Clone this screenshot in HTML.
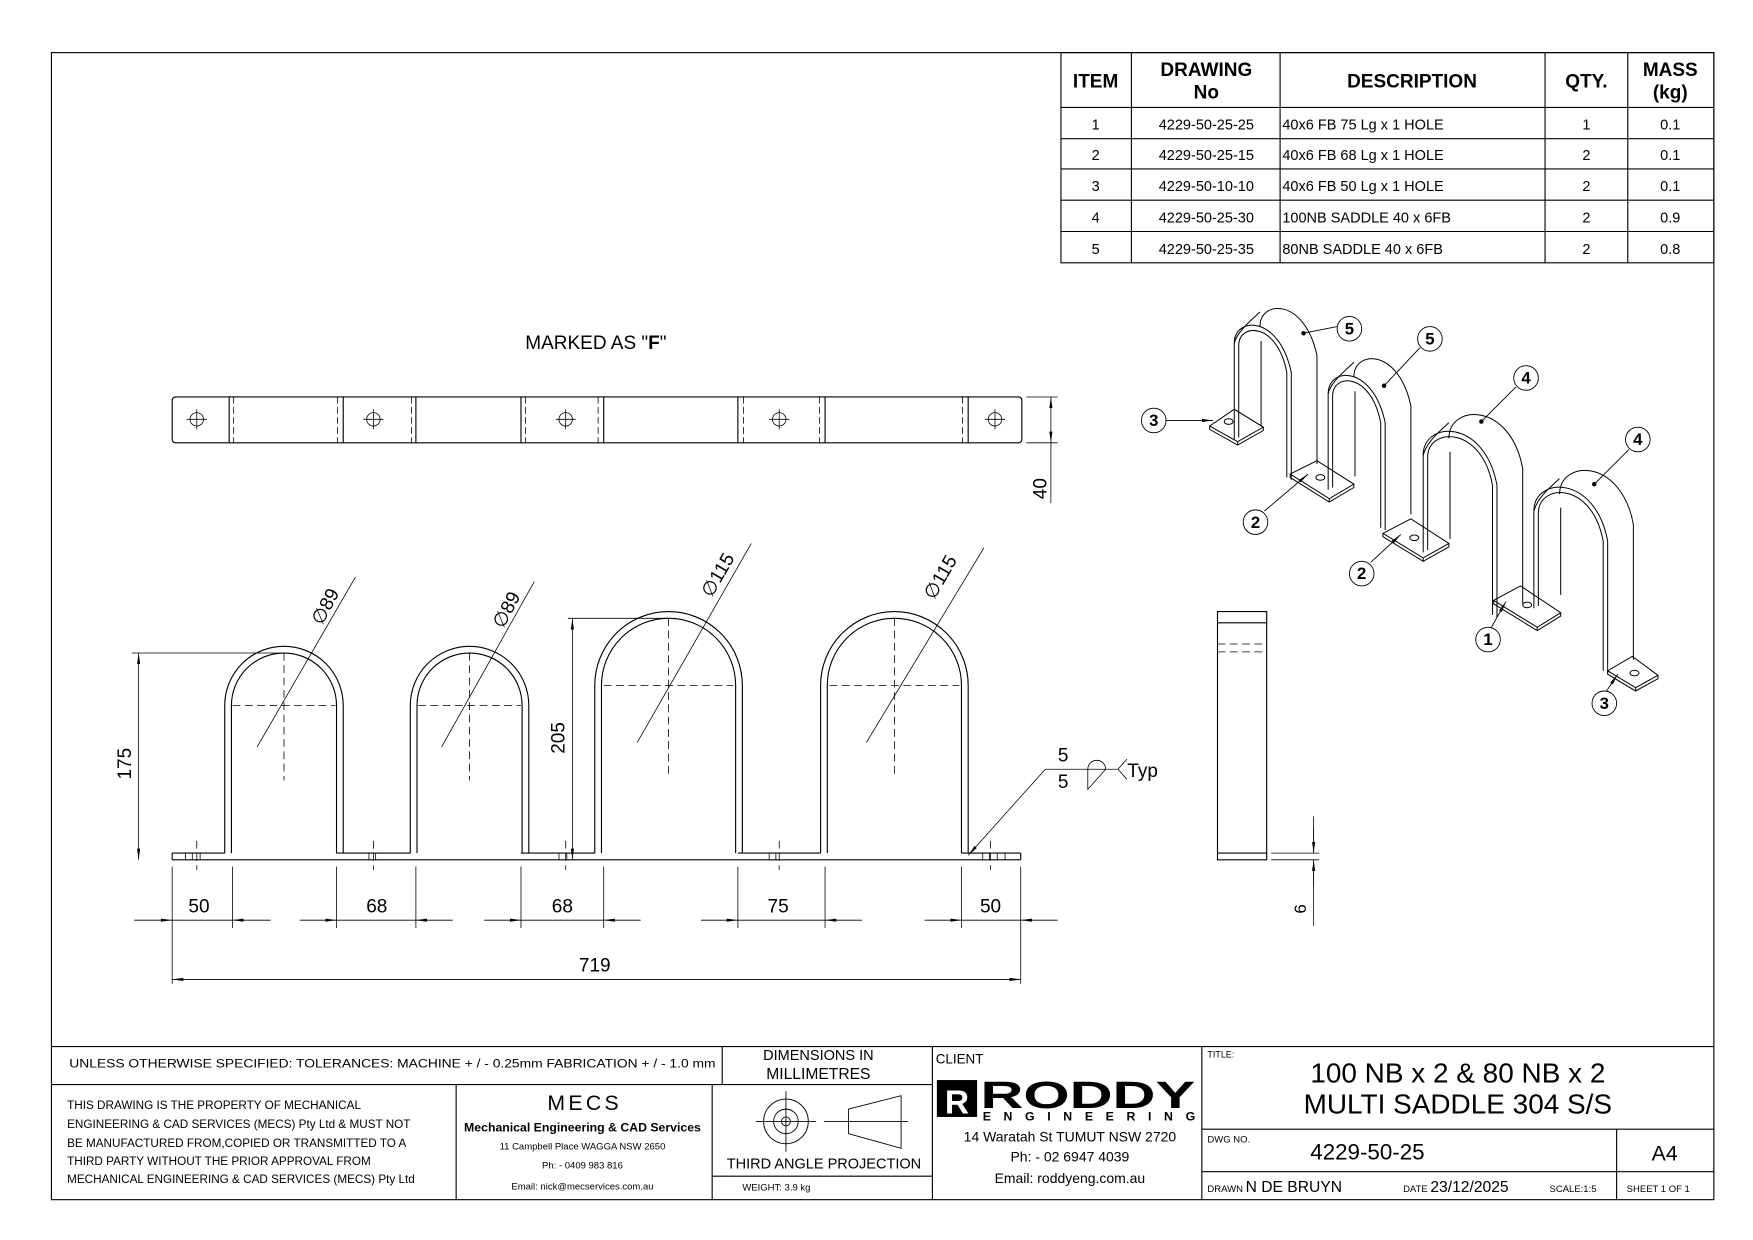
<!DOCTYPE html>
<html><head><meta charset="utf-8"><style>
html,body{margin:0;padding:0;background:#fff}
svg{display:block}
text{font-family:"Liberation Sans",sans-serif;fill:#000}
</style></head><body>
<svg width="1753" height="1240" viewBox="0 0 1568 1109" xmlns="http://www.w3.org/2000/svg">
<defs>
<marker id="ar" viewBox="0 0 10 4" refX="10" refY="2" markerWidth="10" markerHeight="4" markerUnits="userSpaceOnUse" orient="auto-start-reverse"><path d="M0,0.6 L10,2 L0,3.4z" fill="#000"/></marker>
<g id="ss" fill="none" stroke="#000" stroke-width="0.9">
<path d="M0,0 L0,-86 C0,-110 40,-112 51,-60 L51,36"/>
<path d="M4,-2 L4,-84 C4,-104 38,-106 47,-60 L47,34"/>
<path d="M23,-101 C23,-125 63,-127 74,-75 L74,22"/>
<path d="M0,-86 C2,-95 12,-104 23,-114"/>
<path d="M24,-12 L24,-88"/>
</g>
<g id="sl" fill="none" stroke="#000" stroke-width="0.9">
<path d="M0,0 L0,-87 C0,-118 55,-120 66,-60 L66,58"/>
<path d="M4,-2 L4,-85 C4,-112 52,-114 62,-60 L62,56"/>
<path d="M23,-102 C23,-133 78,-135 89,-75 L89,46"/>
<path d="M0,-87 C3,-98 12,-106 23,-116"/>
<path d="M24,-12 L24,-90"/>
</g>
</defs>
<g fill="none" stroke="#000" stroke-width="1">
<rect x="46" y="47" width="1487" height="1026"/>
<rect x="949" y="47" width="584" height="188"/>
<path d="M1012,47V235M1145,47V235M1382,47V235M1456,47V235M949,96H1533M949,124H1533M949,151H1533M949,179H1533M949,207H1533"/>
<path d="M46,936H1533M46,970H834M408,970V1073M637,970V1073M646,936V970M834,936V1073M1075,936V1073M637,1052H834M1075,1010H1533M1075,1048H1533M1446,1010V1073"/>
</g>
<g font-size="13" text-anchor="middle">
<text x="980" y="78" font-weight="bold" font-size="17">ITEM</text>
<text x="1079" y="68" font-weight="bold" font-size="17">DRAWING</text>
<text x="1079" y="88" font-weight="bold" font-size="17">No</text>
<text x="1263" y="78" font-weight="bold" font-size="17">DESCRIPTION</text>
<text x="1419" y="78" font-weight="bold" font-size="17">QTY.</text>
<text x="1494" y="68" font-weight="bold" font-size="17">MASS</text>
<text x="1494" y="88" font-weight="bold" font-size="17">(kg)</text>
<text x="980" y="116">1</text><text x="1079" y="116">4229-50-25-25</text><text x="1419" y="116">1</text><text x="1494" y="116">0.1</text>
<text x="980" y="143">2</text><text x="1079" y="143">4229-50-25-15</text><text x="1419" y="143">2</text><text x="1494" y="143">0.1</text>
<text x="980" y="171">3</text><text x="1079" y="171">4229-50-10-10</text><text x="1419" y="171">2</text><text x="1494" y="171">0.1</text>
<text x="980" y="199">4</text><text x="1079" y="199">4229-50-25-30</text><text x="1419" y="199">2</text><text x="1494" y="199">0.9</text>
<text x="980" y="227">5</text><text x="1079" y="227">4229-50-25-35</text><text x="1419" y="227">2</text><text x="1494" y="227">0.8</text>
</g>
<g font-size="13">
<text x="1147" y="116">40x6 FB 75 Lg x 1 HOLE</text>
<text x="1147" y="143">40x6 FB 68 Lg x 1 HOLE</text>
<text x="1147" y="171">40x6 FB 50 Lg x 1 HOLE</text>
<text x="1147" y="199">100NB SADDLE 40 x 6FB</text>
<text x="1147" y="227">80NB SADDLE 40 x 6FB</text>
</g>
<text x="533" y="312" font-size="17" text-anchor="middle">MARKED AS "<tspan font-weight="bold">F</tspan>"</text>
<g fill="none" stroke="#000" stroke-width="1">
<rect x="154" y="355" width="760" height="41" rx="3"/>
<path d="M205,355V396M307,355V396M372,355V396M466,355V396M540,355V396M660,355V396M738,355V396M866,355V396"/>
<path stroke-dasharray="6,3" stroke-width="0.7" d="M209,355V396M302,355V396M368,355V396M470,355V396M535,355V396M665,355V396M733,355V396M861,355V396"/>
<g stroke-width="0.7">
<circle cx="176" cy="375" r="6"/><path d="M176,366V384M167,375H185"/>
<circle cx="334" cy="375" r="6"/><path d="M334,366V384M325,375H343"/>
<circle cx="506" cy="375" r="6"/><path d="M506,366V384M497,375H515"/>
<circle cx="697" cy="375" r="6"/><path d="M697,366V384M688,375H706"/>
<circle cx="890" cy="375" r="6"/><path d="M890,366V384M881,375H899"/>
</g>
<path stroke-width="0.7" d="M918,355H946M918,396H946"/>
<path stroke-width="0.7" d="M940,355V396" marker-start="url(#ar)" marker-end="url(#ar)"/>
<path stroke-width="0.7" d="M940,396V450"/>
</g>
<text x="0" y="0" font-size="17" transform="translate(936,437) rotate(-90)" text-anchor="middle">40</text>
<g fill="none" stroke="#000" stroke-width="1">
<path d="M154,769H913M154,763H201M301,763H367M466,763H532M660,763H734M860,763H913M154,763V769M913,763V769"/>
<path d="M201,763V631A53,53 0 0 1 307,631V763M207,763V631A47,47 0 0 1 301,631V763"/>
<path d="M367,763V631A53,53 0 0 1 473,631V763M373,763V631A47,47 0 0 1 467,631V763"/>
<path d="M532,763V613A66,66 0 0 1 664,613V763M538,763V613A60,60 0 0 1 658,613V763"/>
<path d="M734,763V613A66,66 0 0 1 866,613V763M740,763V613A60,60 0 0 1 860,613V763"/>
<path stroke-width="0.7" d="M166,763V769M172,763V769M179,763V769M330,763V769M336,763V769M500,763V769M507,763V769M688,763V769M694,763V769M879,763V769M885,763V769M892,763V769M899,763V769"/>
<g stroke-width="0.7" stroke-dasharray="7,4">
<path d="M254,584V698M208,631H300M420,584V698M374,631H466M598,553V695M540,613H656M800,553V695M742,613H858"/>
<path d="M176,752V778M334,752V778M506,752V778M697,752V778M886,752V778"/>
</g>
<g stroke-width="0.7">
<path d="M230,668L318,516M395,668L478,520M570,664L672,486M775,664L880,490"/>
<path d="M118,584H254M508,553H598"/>
<path d="M124,584V769" marker-start="url(#ar)" marker-end="url(#ar)"/>
<path d="M512,553V769" marker-start="url(#ar)" marker-end="url(#ar)"/>
<path d="M154,775V880M208,775V830M301,775V830M372,775V830M466,775V830M540,775V830M660,775V830M738,775V830M860,775V830M913,775V880"/>
<path d="M120,823H154" marker-end="url(#ar)"/><path d="M242,823H208" marker-end="url(#ar)"/><path d="M154,823H208"/>
<path d="M268,823H301" marker-end="url(#ar)"/><path d="M405,823H372" marker-end="url(#ar)"/><path d="M301,823H372"/>
<path d="M433,823H466" marker-end="url(#ar)"/><path d="M573,823H540" marker-end="url(#ar)"/><path d="M466,823H540"/>
<path d="M627,823H660" marker-end="url(#ar)"/><path d="M771,823H738" marker-end="url(#ar)"/><path d="M660,823H738"/>
<path d="M827,823H860" marker-end="url(#ar)"/><path d="M946,823H913" marker-end="url(#ar)"/><path d="M860,823H913"/>
<path d="M154,876H913" marker-start="url(#ar)" marker-end="url(#ar)"/>
<path d="M935,688L866,765" marker-end="url(#ar)"/>
<path d="M935,688H1000M973,688A8,8 0 0 1 989,688M973,688V706L989,688M1000,688L1008,679M1000,688L1008,697"/>
</g>
</g>
<g font-size="17" text-anchor="middle">
<text transform="translate(117,683) rotate(-90)">175</text>
<text transform="translate(505,660) rotate(-90)">205</text>
<text transform="translate(296,545) rotate(-62)">∅89</text>
<text transform="translate(458,548) rotate(-62)">∅89</text>
<text transform="translate(647,517) rotate(-60)">∅115</text>
<text transform="translate(846,519) rotate(-60)">∅115</text>
<text x="178" y="816">50</text><text x="337" y="816">68</text><text x="503" y="816">68</text><text x="696" y="816">75</text><text x="886" y="816">50</text>
<text x="532" y="869">719</text>
<text x="951" y="681">5</text><text x="951" y="705">5</text>
<text x="1022" y="695">Typ</text>
</g>
<g fill="none" stroke="#000" stroke-width="1">
<path d="M1089,547V769H1133V547ZM1089,557H1133M1089,763H1133"/>
<path stroke-dasharray="7,4" stroke-width="0.7" d="M1089,576H1133M1089,583H1133"/>
<path stroke-width="0.7" d="M1137,763H1180M1137,769H1180M1175,730V763M1175,769V828"/>
<path stroke-width="0.7" d="M1175,740V763" marker-end="url(#ar)"/>
<path stroke-width="0.7" d="M1175,792V769" marker-end="url(#ar)"/>
</g>
<text transform="translate(1168,813) rotate(-90)" font-size="15" text-anchor="middle">6</text>
<g fill="none" stroke="#000" stroke-width="0.9">
<path d="M1082,381L1107,395L1130,382L1104,366ZM1082,381V384L1107,398L1130,385V382M1107,395V398"/>
<path d="M1154,424L1189,446L1211,433L1178,412ZM1154,424V427L1189,449L1211,436V433M1189,446V449"/>
<path d="M1237,477L1273,499L1296,486L1262,464ZM1237,477V480L1273,502L1296,489V486M1273,499V502"/>
<path d="M1336,537L1375,561L1396,548L1360,524ZM1336,537V540L1375,564L1396,551V548M1375,561V564"/>
<path d="M1438,600L1463,615L1483,604L1460,587ZM1438,600V603L1463,618L1483,607V604M1463,615V618"/>
<ellipse cx="1099" cy="377" rx="4" ry="2.5"/><ellipse cx="1181" cy="427" rx="4" ry="2.5"/><ellipse cx="1265" cy="481" rx="4" ry="2.5"/><ellipse cx="1366" cy="541" rx="4" ry="2.5"/><ellipse cx="1462" cy="602" rx="4" ry="2.5"/>
</g>
<use href="#ss" x="1104" y="393"/>
<use href="#ss" x="1188" y="438"/>
<use href="#sl" x="1273" y="494"/>
<use href="#sl" x="1372" y="544"/>
<g fill="none" stroke="#000" stroke-width="0.8">
<path d="M1196,292L1166,298M1270,311L1238,345M1356,346L1325,377M1457,402L1426,433"/>
<path d="M1043,376H1085" marker-end="url(#ar)"/>
<path d="M1131,457L1170,424" marker-end="url(#ar)"/>
<path d="M1226,503L1253,478" marker-end="url(#ar)"/>
<path d="M1334,561L1347,538" marker-end="url(#ar)"/>
<path d="M1437,618L1447,603" marker-end="url(#ar)"/>
<circle cx="1032" cy="376" r="11"/><circle cx="1207" cy="294" r="11"/><circle cx="1279" cy="303" r="11"/><circle cx="1365" cy="338" r="11"/><circle cx="1465" cy="393" r="11"/><circle cx="1123" cy="467" r="11"/><circle cx="1218" cy="513" r="11"/><circle cx="1331" cy="572" r="11"/><circle cx="1435" cy="629" r="11"/>
</g>
<g fill="#000"><circle cx="1166" cy="298" r="2"/><circle cx="1238" cy="345" r="2"/><circle cx="1325" cy="377" r="2"/><circle cx="1426" cy="433" r="2"/></g>
<g font-size="15" font-weight="bold" text-anchor="middle">
<text x="1032" y="381">3</text><text x="1207" y="299">5</text><text x="1279" y="308">5</text><text x="1365" y="343">4</text><text x="1465" y="398">4</text><text x="1123" y="472">2</text><text x="1218" y="518">2</text><text x="1331" y="577">1</text><text x="1435" y="634">3</text>
</g>
<text x="62" y="955" font-size="11" textLength="578" lengthAdjust="spacingAndGlyphs">UNLESS OTHERWISE SPECIFIED: TOLERANCES: MACHINE + / - 0.25mm  FABRICATION + / - 1.0 mm</text>
<text x="732" y="948" font-size="13" text-anchor="middle">DIMENSIONS IN</text>
<text x="732" y="965" font-size="14" text-anchor="middle">MILLIMETRES</text>
<g font-size="10.5">
<text x="60" y="992">THIS DRAWING IS THE PROPERTY OF MECHANICAL</text>
<text x="60" y="1009">ENGINEERING &amp; CAD SERVICES (MECS) Pty Ltd &amp; MUST NOT</text>
<text x="60" y="1026">BE MANUFACTURED FROM,COPIED OR TRANSMITTED TO A</text>
<text x="60" y="1042">THIRD PARTY WITHOUT THE PRIOR APPROVAL FROM</text>
<text x="60" y="1058">MECHANICAL ENGINEERING &amp; CAD SERVICES (MECS) Pty Ltd</text>
</g>
<g text-anchor="middle">
<text x="523" y="993" font-size="19" letter-spacing="3">MECS</text>
<text x="521" y="1012" font-size="11" font-weight="bold">Mechanical Engineering &amp; CAD Services</text>
<text x="521" y="1028" font-size="8.5">11 Campbell Place WAGGA NSW 2650</text>
<text x="521" y="1045" font-size="8.5">Ph: - 0409 983 816</text>
<text x="521" y="1064" font-size="8.5">Email: nick@mecservices.com.au</text>
<text x="737" y="1045" font-size="13">THIRD ANGLE PROJECTION</text>
</g>
<text x="664" y="1065" font-size="8.5">WEIGHT: 3.9 kg</text>
<g fill="none" stroke="#000" stroke-width="0.8">
<circle cx="703" cy="1003" r="20"/><circle cx="703" cy="1003" r="11"/><circle cx="703" cy="1003" r="4"/>
<path d="M676,1003H730M703,976V1030M737,1003H812M759,992L806,980V1027L759,1014Z"/>
</g>
<text x="837" y="951" font-size="12">CLIENT</text>
<rect x="838" y="966" width="36" height="33" fill="#000"/>
<text x="856" y="996" font-size="30" font-weight="bold" text-anchor="middle" style="fill:#fff">R</text>
<text x="877" y="991" font-size="34" font-weight="bold" textLength="192" lengthAdjust="spacingAndGlyphs">RODDY</text>
<text x="879" y="1002" font-size="11" font-weight="bold" textLength="190">ENGINEERING</text>
<g text-anchor="middle" font-size="12.5">
<text x="957" y="1021">14 Waratah St TUMUT NSW 2720</text>
<text x="957" y="1039">Ph: - 02 6947 4039</text>
<text x="957" y="1058">Email: roddyeng.com.au</text>
</g>
<text x="1080" y="946" font-size="8">TITLE:</text>
<text x="1304" y="968" font-size="25" text-anchor="middle">100 NB x 2 &amp; 80 NB x 2</text>
<text x="1304" y="996" font-size="25" text-anchor="middle">MULTI SADDLE 304 S/S</text>
<text x="1080" y="1022" font-size="8.5">DWG NO.</text>
<text x="1172" y="1037" font-size="20">4229-50-25</text>
<text x="1489" y="1038" font-size="19" text-anchor="middle">A4</text>
<text x="1080" y="1066" font-size="8.5">DRAWN <tspan font-size="14">N DE BRUYN</tspan></text>
<text x="1255" y="1066" font-size="8.5">DATE <tspan font-size="14">23/12/2025</tspan></text>
<text x="1386" y="1066" font-size="8.5">SCALE:1:5</text>
<text x="1455" y="1066" font-size="8.5">SHEET 1 OF 1</text>
</svg>
</body></html>
